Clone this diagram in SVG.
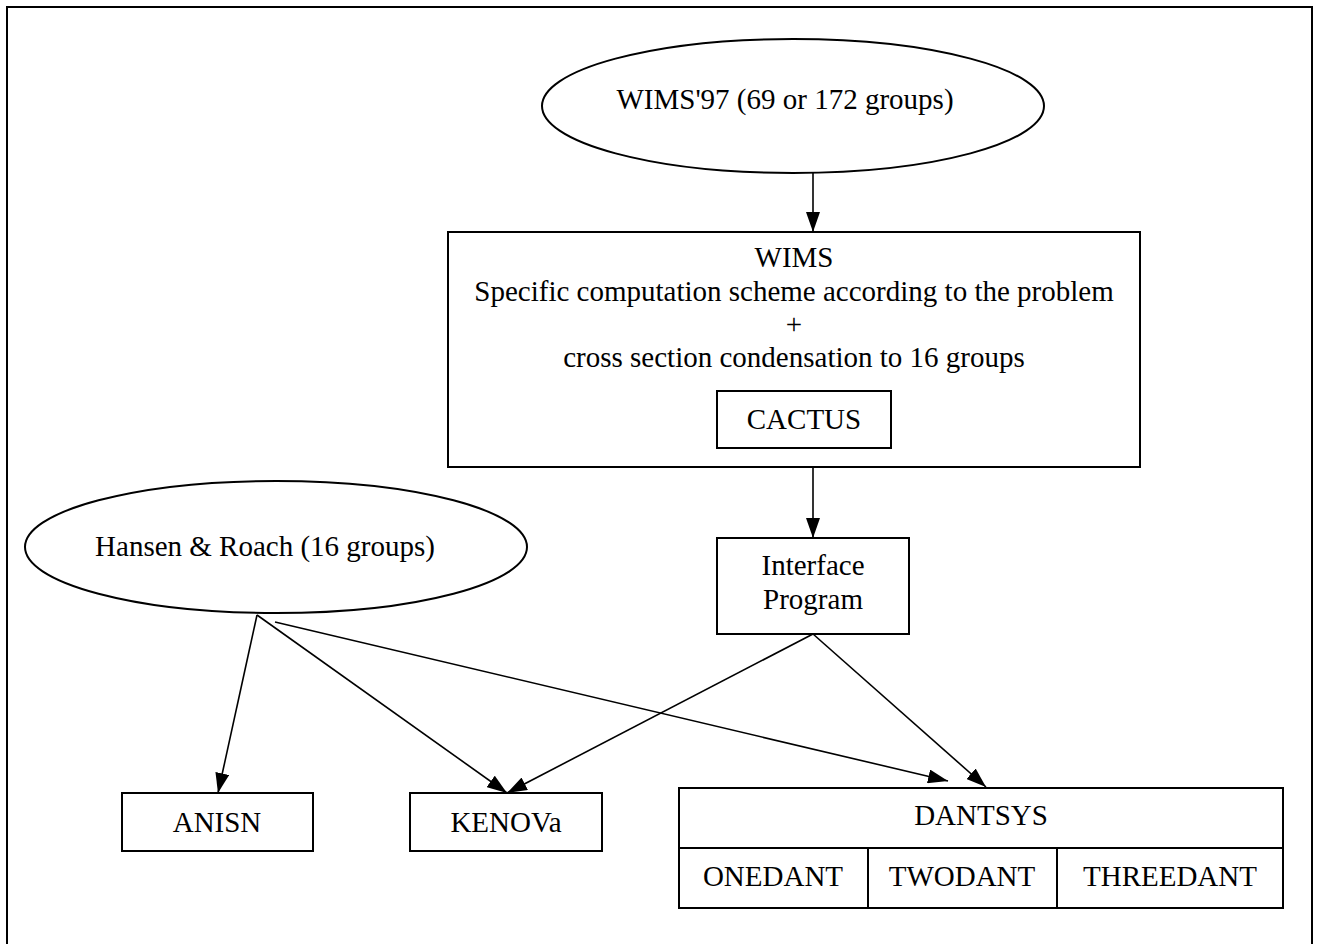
<svg xmlns="http://www.w3.org/2000/svg" width="1319" height="944" viewBox="0 0 1319 944">
<style>
text{font-family:"Liberation Serif","Times New Roman",serif;font-size:29px;fill:#000;text-anchor:middle}
.box{fill:#fff;stroke:#000;stroke-width:2}
.conn line{stroke:#000;stroke-width:1.6;fill:none}
</style>
<defs>
<marker id="ah" markerUnits="userSpaceOnUse" markerWidth="20" markerHeight="14" refX="20" refY="7" orient="auto">
<path d="M0,0 L20,7 L0,14 z" fill="#000"/>
</marker>
</defs>
<rect x="0" y="0" width="1319" height="944" fill="#fff"/>
<rect x="7" y="7" width="1305" height="950" fill="none" stroke="#000" stroke-width="2"/>
<g id="wims97">
<ellipse class="box" cx="793" cy="106" rx="251" ry="67"/>
<text x="785" y="109">WIMS'97 (69 or 172 groups)</text>
</g>
<g id="wims">
<rect class="box" x="448" y="232" width="692" height="235"/>
<text x="794" y="267">WIMS</text>
<text x="794" y="301">Specific computation scheme according to the problem</text>
<text x="794" y="334">+</text>
<text x="794" y="367">cross section condensation to 16 groups</text>
</g>
<g id="cactus">
<rect class="box" x="717" y="391" width="174" height="57"/>
<text x="804" y="429">CACTUS</text>
</g>
<g id="interface">
<rect class="box" x="717" y="538" width="192" height="96"/>
<text x="813" y="575">Interface</text>
<text x="813" y="609">Program</text>
</g>
<g id="hansen">
<ellipse class="box" cx="276" cy="547" rx="251" ry="66"/>
<text x="265" y="556">Hansen &amp; Roach (16 groups)</text>
</g>
<g id="anisn">
<rect class="box" x="122" y="793" width="191" height="58"/>
<text x="217" y="832">ANISN</text>
</g>
<g id="kenova">
<rect class="box" x="410" y="793" width="192" height="58"/>
<text x="506" y="832">KENOVa</text>
</g>
<g id="dantsys">
<rect class="box" x="679" y="788" width="604" height="120"/>
<line x1="679" y1="848" x2="1283" y2="848" stroke="#000" stroke-width="2"/>
<line x1="868" y1="848" x2="868" y2="908" stroke="#000" stroke-width="2"/>
<line x1="1057" y1="848" x2="1057" y2="908" stroke="#000" stroke-width="2"/>
<text x="981" y="825">DANTSYS</text>
<text x="773" y="886">ONEDANT</text>
<text x="962" y="886">TWODANT</text>
<text x="1170" y="886">THREEDANT</text>
</g>
<g id="connectors" class="conn">
<line x1="813" y1="173" x2="813" y2="232" marker-end="url(#ah)"/>
<line x1="813" y1="467" x2="813" y2="538" marker-end="url(#ah)"/>
<line x1="257" y1="615" x2="218" y2="793" marker-end="url(#ah)"/>
<line x1="257" y1="615" x2="507" y2="793" marker-end="url(#ah)"/>
<line x1="275" y1="622" x2="948" y2="781" marker-end="url(#ah)"/>
<line x1="813" y1="634" x2="507" y2="793" marker-end="url(#ah)"/>
<line x1="813" y1="634" x2="986" y2="787" marker-end="url(#ah)"/>
</g>
</svg>
